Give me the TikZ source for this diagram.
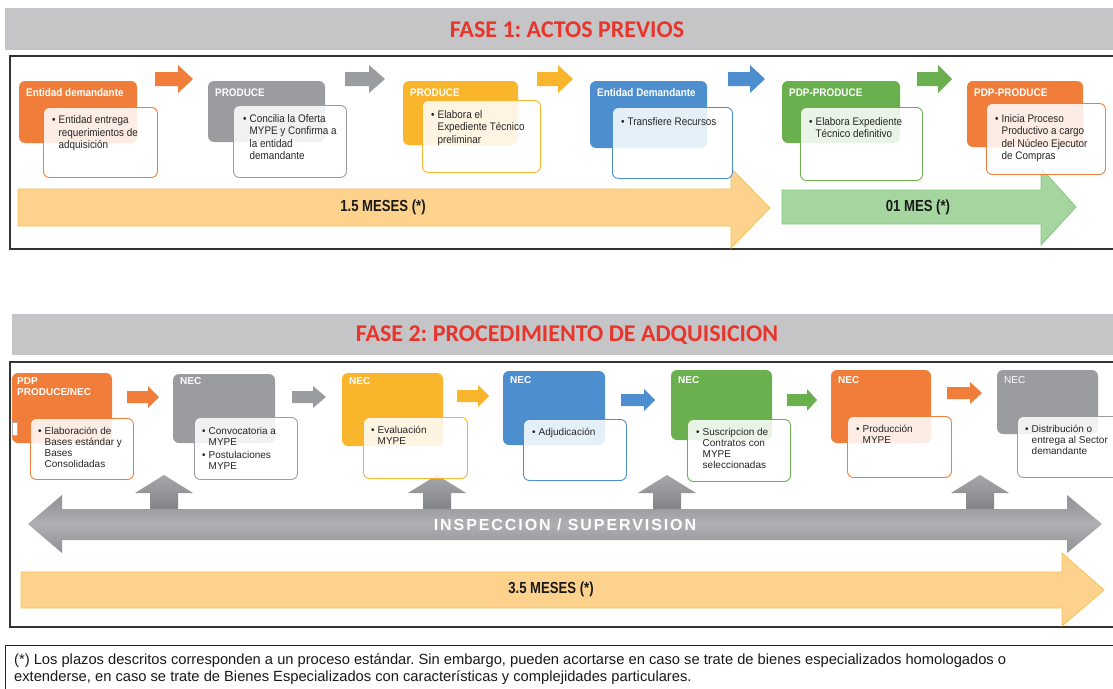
\documentclass[tikz,border=0pt]{standalone}
\usepackage{fontspec}
\setmainfont{Liberation Sans}
\newfontfamily\nar{Liberation Sans}[FakeStretch=0.9]
\newfontfamily\narb{Liberation Sans}[FakeStretch=0.82]
\newfontfamily\ttl{Carlito}
\newfontfamily\insp{Liberation Sans}[LetterSpace=12]
\frenchspacing
\definecolor{cOr}{HTML}{F07E3A}
\definecolor{cGy}{HTML}{9B9C9F}
\definecolor{cYe}{HTML}{F9B52B}
\definecolor{cBl}{HTML}{4D8ECF}
\definecolor{cGr}{HTML}{6AB04E}
\definecolor{band}{HTML}{C5C5C7}
\definecolor{ttlred}{HTML}{E8352B}
\definecolor{yArr}{HTML}{FDD28C}
\definecolor{yArrB}{HTML}{F8C253}
\definecolor{gArr}{HTML}{A5D6A0}
\definecolor{gArrB}{HTML}{86C67F}
\definecolor{insA}{HTML}{8E8F93}
\definecolor{insB}{HTML}{AEAFB3}
\definecolor{upA}{HTML}{A6A7AB}
\definecolor{upB}{HTML}{808185}
\pgfdeclareverticalshading{insshade}{100bp}{color(0bp)=(insA); color(24bp)=(insA); color(50bp)=(insB); color(76bp)=(insA); color(100bp)=(insA)}
\newcommand\blkarr[7]{%
  \fill[#1] (#2,{#5-#6}) -- (#3,{#5-#6}) -- (#3,{#5-#7}) -- (#4,#5) -- (#3,{#5+#7}) -- (#3,{#5+#6}) -- (#2,{#5+#6}) -- cycle;}
\newcommand\uparr[1]{%
  \shade[top color=upA,bottom color=upB] ({#1-14},512) -- ({#1-14},493) -- ({#1-29},493) -- (#1,475) -- ({#1+29},493) -- ({#1+14},493) -- ({#1+14},512) -- cycle;}
\begin{document}
\begin{tikzpicture}[x=1pt,y=-1pt,
  headbox/.style={rounded corners=6pt, inner sep=0, outer sep=0, draw=none},
  bodybox/.style={rounded corners=6pt, inner sep=0, fill=white, fill opacity=0.86, draw opacity=1, line width=0.9pt},
  hlabA/.style={text=white, font=\nar\bfseries\fontsize{11}{13}\selectfont, inner sep=0, anchor=west},
  hlabB/.style={text=white, font=\bfseries\fontsize{10}{11}\selectfont, inner sep=0, anchor=west},
  btxtA/.style={font=\nar\fontsize{11}{12.5}\selectfont, inner sep=0, anchor=base west, text=black!85},
  btxtB/.style={font=\fontsize{10}{11}\selectfont, inner sep=0, anchor=base west, text=black!85},
  mes/.style={font=\narb\bfseries\fontsize{16}{16}\selectfont, inner sep=0, text=black!90},
  ttlsty/.style={font=\ttl\bfseries\fontsize{24}{24}\selectfont, text=ttlred, inner sep=0}
]
\clip (0,0) rectangle (1113,688);
\fill[white] (0,0) rectangle (1113,688);

% ---------------- FASE 1 ----------------
\fill[band] (5,8) rectangle (1120,50);
\node[ttlsty] (t1) at (567,30) {FASE 1: ACTOS PREVIOS};
\draw[black!80, line width=1.2pt] (10,56) rectangle (1125,249);

% big arrows
\filldraw[fill=yArr, draw=yArrB, line width=0.8pt] (18,189) -- (731,189) -- (731,168) -- (770,208) -- (731,248) -- (731,226) -- (18,226) -- cycle;
\filldraw[fill=gArr, draw=gArrB, line width=0.8pt] (782,190) -- (1041,190) -- (1041,168) -- (1076,207) -- (1041,245) -- (1041,224) -- (782,224) -- cycle;
\node[mes] (m1) at (383,207) {1.5 MESES (*)};
\node[mes] (m2) at (918,207) {01 MES (*)};

% small arrows
\blkarr{cOr}{155}{178}{193}{79}{7}{14}
\blkarr{cGy}{345}{369}{385}{79}{7}{14}
\blkarr{cYe}{537}{558}{573}{79}{7}{14}
\blkarr{cBl}{728}{750}{765}{79}{7}{14}
\blkarr{cGr}{917}{938}{952}{79}{7}{14}

% box 1
\node[headbox, fill=cOr, minimum width=118pt, minimum height=62pt, anchor=north west] (a1h) at (19,81) {};
\node[hlabA] (a1l) at (26,93) {Entidad demandante};
\node[bodybox, draw=cOr, minimum width=114pt, minimum height=70pt, anchor=north west] (a1b) at (43,107) {};
\node[btxtA] (a1t) at (52,123.5) {\begin{tabular}[t]{@{}l@{\hspace{3pt}}l@{}}\textbullet & Entidad entrega\\ & requerimientos de\\ & adquisición\end{tabular}};
% box 2
\node[headbox, fill=cGy, minimum width=117pt, minimum height=61pt, anchor=north west] (a2h) at (208,81) {};
\node[hlabA] (a2l) at (215,93) {PRODUCE};
\node[bodybox, draw=cGy, minimum width=113pt, minimum height=72pt, anchor=north west] (a2b) at (233,105) {};
\node[btxtA] (a2t) at (243,122) {\begin{tabular}[t]{@{}l@{\hspace{3pt}}l@{}}\textbullet & Concilia la Oferta\\ & MYPE y Confirma a\\ & la entidad\\ & demandante\end{tabular}};
% box 3
\node[headbox, fill=cYe, minimum width=115pt, minimum height=64pt, anchor=north west] (a3h) at (403,81) {};
\node[hlabA] (a3l) at (410,93) {PRODUCE};
\node[bodybox, draw=cYe, minimum width=118pt, minimum height=72pt, anchor=north west] (a3b) at (422,100) {};
\node[btxtA] (a3t) at (431,118) {\begin{tabular}[t]{@{}l@{\hspace{3pt}}l@{}}\textbullet & Elabora el\\ & Expediente Técnico\\ & preliminar\end{tabular}};
% box 4
\node[headbox, fill=cBl, minimum width=117pt, minimum height=67pt, anchor=north west] (a4h) at (590,81) {};
\node[hlabA] (a4l) at (597,93) {Entidad Demandante};
\node[bodybox, draw=cBl, minimum width=120pt, minimum height=71pt, anchor=north west] (a4b) at (612,107) {};
\node[btxtA] (a4t) at (621,125) {\begin{tabular}[t]{@{}l@{\hspace{3pt}}l@{}}\textbullet & Transfiere Recursos\end{tabular}};
% box 5
\node[headbox, fill=cGr, minimum width=118pt, minimum height=62pt, anchor=north west] (a5h) at (782,81) {};
\node[hlabA] (a5l) at (789,93) {PDP-PRODUCE};
\node[bodybox, draw=cGr, minimum width=122pt, minimum height=73pt, anchor=north west] (a5b) at (800,107) {};
\node[btxtA] (a5t) at (809,125) {\begin{tabular}[t]{@{}l@{\hspace{3pt}}l@{}}\textbullet & Elabora Expediente\\ & Técnico definitivo\end{tabular}};
% box 6
\node[headbox, fill=cOr, minimum width=116pt, minimum height=66pt, anchor=north west] (a6h) at (967,81) {};
\node[hlabA] (a6l) at (974,93) {PDP-PRODUCE};
\node[bodybox, draw=cOr, minimum width=119pt, minimum height=71pt, anchor=north west] (a6b) at (986,103) {};
\node[btxtA] (a6t) at (995,122) {\begin{tabular}[t]{@{}l@{\hspace{3pt}}l@{}}\textbullet & Inicia Proceso\\ & Productivo a cargo\\ & del Núcleo Ejecutor\\ & de Compras\end{tabular}};

% ---------------- FASE 2 ----------------
\fill[band] (12,314) rectangle (1120,355);
\node[ttlsty] (t2) at (567,335) {FASE 2: PROCEDIMIENTO DE ADQUISICION};
\draw[black!80, line width=1.2pt] (10,362) rectangle (1125,627);

% 3.5 arrow
\filldraw[fill=yArr, draw=yArrB, line width=0.8pt] (21,572) -- (1062,572) -- (1062,553) -- (1104,590) -- (1062,626) -- (1062,608) -- (21,608) -- cycle;
\node[mes] (m3) at (551,589) {3.5 MESES (*)};

% up arrows and inspection arrow
\uparr{164}
\uparr{437}
\uparr{667}
\uparr{980}
\shade[shading=insshade] (28,524) -- (62,495) -- (62,509) -- (1067,509) -- (1067,495) -- (1102,524) -- (1067,553) -- (1067,540) -- (62,540) -- (62,553) -- cycle;
\node[text=white, font=\insp\bfseries\fontsize{16}{16}\selectfont, inner sep=0] (insp) at (565,525) {INSPECCION / SUPERVISION};

% small arrows
\blkarr{cOr}{127}{148}{159}{397}{6}{11}
\blkarr{cGy}{292}{313}{326}{397}{6}{11}
\blkarr{cYe}{457}{478}{489}{396}{6}{11}
\blkarr{cBl}{621}{644}{655}{400}{6}{11}
\blkarr{cGr}{787}{807}{817}{400}{6}{11}
\blkarr{cOr}{947}{970}{982}{393}{6}{11}

% box A
\node[headbox, fill=cOr, minimum width=100pt, minimum height=70pt, anchor=north west] (b1h) at (12,373) {};
\fill[white, draw=black!30, line width=0.4pt] (12,422) rectangle (17,435);
\node[text=white, font=\bfseries\fontsize{10}{11}\selectfont, inner sep=0, anchor=north west, align=left] (b1l) at (17,377) {PDP\\PRODUCE/NEC};
\node[bodybox, draw=cOr, minimum width=103pt, minimum height=61pt, anchor=north west] (b1b) at (30,418) {};
\node[btxtB] (b1t) at (38,434.5) {\begin{tabular}[t]{@{}l@{\hspace{3pt}}l@{}}\textbullet & Elaboración de\\ & Bases estándar y\\ & Bases\\ & Consolidadas\end{tabular}};
% box B
\node[headbox, fill=cGy, minimum width=102pt, minimum height=69pt, anchor=north west] (b2h) at (173,374) {};
\node[hlabB] (b2l) at (180,381) {NEC};
\node[bodybox, draw=cGy, minimum width=103pt, minimum height=62pt, anchor=north west] (b2b) at (194,417) {};
\node[btxtB] (b2t) at (202,434.5) {\begin{tabular}[t]{@{}l@{\hspace{3pt}}l@{}}\textbullet & Convocatoria a\\ & MYPE\\[1.5pt] \textbullet & Postulaciones\\ & MYPE\end{tabular}};
% box C
\node[headbox, fill=cYe, minimum width=101pt, minimum height=73pt, anchor=north west] (b3h) at (342,373) {};
\node[hlabB] (b3l) at (349,381) {NEC};
\node[bodybox, draw=cYe, minimum width=104pt, minimum height=61pt, anchor=north west] (b3b) at (363,417) {};
\node[btxtB] (b3t) at (371,433.5) {\begin{tabular}[t]{@{}l@{\hspace{3pt}}l@{}}\textbullet & Evaluación\\ & MYPE\end{tabular}};
% box D
\node[headbox, fill=cBl, minimum width=102pt, minimum height=74pt, anchor=north west] (b4h) at (503,371) {};
\node[hlabB] (b4l) at (510,380) {NEC};
\node[bodybox, draw=cBl, minimum width=103pt, minimum height=61pt, anchor=north west] (b4b) at (523,419) {};
\node[btxtB] (b4t) at (532,435.5) {\begin{tabular}[t]{@{}l@{\hspace{3pt}}l@{}}\textbullet & Adjudicación\end{tabular}};
% box E
\node[headbox, fill=cGr, minimum width=101pt, minimum height=70pt, anchor=north west] (b5h) at (671,370) {};
\node[hlabB] (b5l) at (678,380) {NEC};
\node[bodybox, draw=cGr, minimum width=103pt, minimum height=62pt, anchor=north west] (b5b) at (687,419) {};
\node[btxtB] (b5t) at (696,435.5) {\begin{tabular}[t]{@{}l@{\hspace{3pt}}l@{}}\textbullet & Suscripcion de\\ & Contratos con\\ & MYPE\\ & seleccionadas\end{tabular}};
% box F
\node[headbox, fill=cOr, minimum width=100pt, minimum height=73pt, anchor=north west] (b6h) at (831,370) {};
\node[hlabB] (b6l) at (838,380) {NEC};
\node[bodybox, draw=cOr, minimum width=104pt, minimum height=61pt, anchor=north west] (b6b) at (847,416) {};
\node[btxtB] (b6t) at (856,432.5) {\begin{tabular}[t]{@{}l@{\hspace{3pt}}l@{}}\textbullet & Producción\\ & MYPE\end{tabular}};
% box G
\node[headbox, fill=cGy, minimum width=101pt, minimum height=64pt, anchor=north west] (b7h) at (997,370) {};
\node[hlabB, font=\fontsize{10}{11}\selectfont] (b7l) at (1004,380) {NEC};
\node[bodybox, draw=cGy, minimum width=110pt, minimum height=61pt, anchor=north west] (b7b) at (1017,416) {};
\node[btxtB] (b7t) at (1025,432.5) {\begin{tabular}[t]{@{}l@{\hspace{3pt}}l@{}}\textbullet & Distribución o\\ & entrega al Sector\\ & demandante\end{tabular}};

% ---------------- footnote ----------------
\draw[black!85, line width=0.7pt] (5,645) rectangle (1125,700);
\node[font=\fontsize{14.7}{17}\selectfont, inner sep=0, anchor=base west, text=black!90] (fn1) at (14,664.5) {(*) Los plazos descritos corresponden a un proceso estándar. Sin embargo, pueden acortarse en caso se trate de bienes especializados homologados o};
\node[font=\fontsize{14.7}{17}\selectfont, inner sep=0, anchor=base west, text=black!90] (fn2) at (14,681.5) {extenderse, en caso se trate de Bienes Especializados con características y complejidades particulares.};
\end{tikzpicture}
\end{document}
